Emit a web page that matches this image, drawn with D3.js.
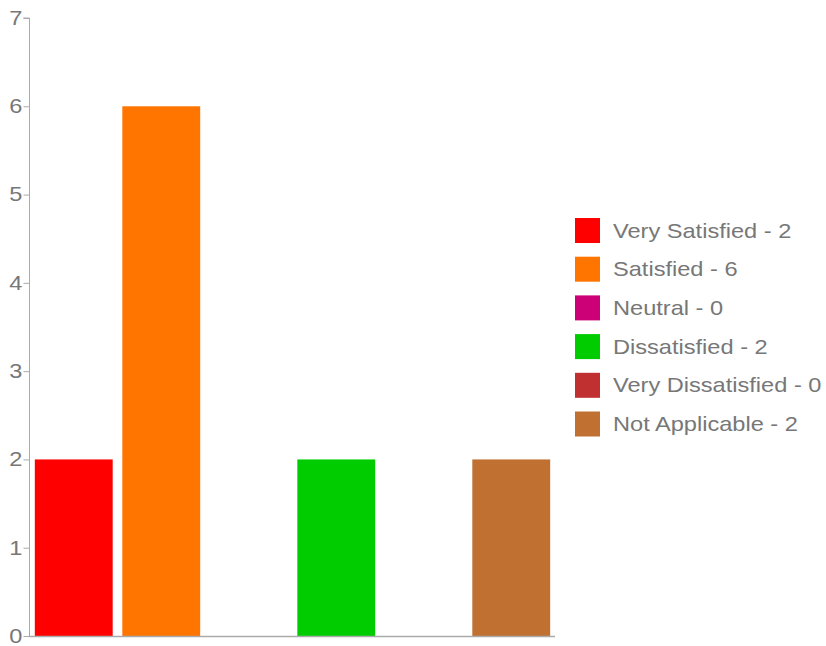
<!DOCTYPE html>
<html><head><meta charset="utf-8">
<script src="https://cdn.jsdelivr.net/npm/d3@7"></script>
<style>body{margin:0;background:#fff}svg{display:block}</style>
</head><body>
<script>
const categories = ["Very Satisfied","Satisfied","Neutral","Dissatisfied","Very Dissatisfied","Not Applicable"];
const values = [2,6,0,2,0,2];
const colors = ["#ff0000","#ff7500","#cc0077","#00cc00","#c03030","#c07030"];
const yTicks = [0,1,2,3,4,5,6,7];

const W=826,H=646;
const svg=d3.select("body").append("svg").attr("width",W).attr("height",H);
const x=d3.scaleBand().domain(categories).range([30,555]).paddingInner(0.11).paddingOuter(0.055);
const y=d3.scaleLinear().domain([0,7]).range([636,18]);

const font="'Liberation Sans', Arial, Helvetica, sans-serif";
const sx=1.18;

// bars
svg.append("g").selectAll("rect").data(categories).join("rect")
  .attr("x",d=>x(d)).attr("width",x.bandwidth())
  .attr("y",(d,i)=>y(values[i])).attr("height",(d,i)=>y(0)-y(values[i]))
  .attr("fill",(d,i)=>colors[i]);

// y axis
const ya=svg.append("g").attr("transform","translate(29.5,0)")
  .call(d3.axisLeft(y).tickValues(yTicks).tickSize(6).tickPadding(0).tickFormat(d3.format("d")));
ya.select(".domain").attr("stroke","#aaa").attr("d","M-6,"+y(7)+"H0V"+y(0));
ya.selectAll(".tick line").attr("stroke","#aaa");
ya.selectAll(".tick text").attr("fill","#777").attr("font-size",20).attr("font-family",font)
  .attr("x",0).attr("transform",`translate(-7,0) scale(${sx},1)`);

// x axis baseline
svg.append("line").attr("x1",29).attr("x2",555).attr("y1",636.5).attr("y2",636.5).attr("stroke","#aaa").attr("stroke-width",1.5);

// legend
const lg=svg.append("g");
const rows=lg.selectAll("g").data(categories).join("g")
  .attr("transform",(d,i)=>`translate(575,${218+i*38.7})`);
rows.append("rect").attr("width",25).attr("height",25).attr("fill",(d,i)=>colors[i]);
rows.append("text").attr("transform",`translate(38,12.5) scale(${sx},1)`).attr("dy","0.35em")
  .attr("font-family",font).attr("font-size",20).attr("fill","#777")
  .text((d,i)=>`${d} - ${values[i]}`);
</script>
</body></html>
